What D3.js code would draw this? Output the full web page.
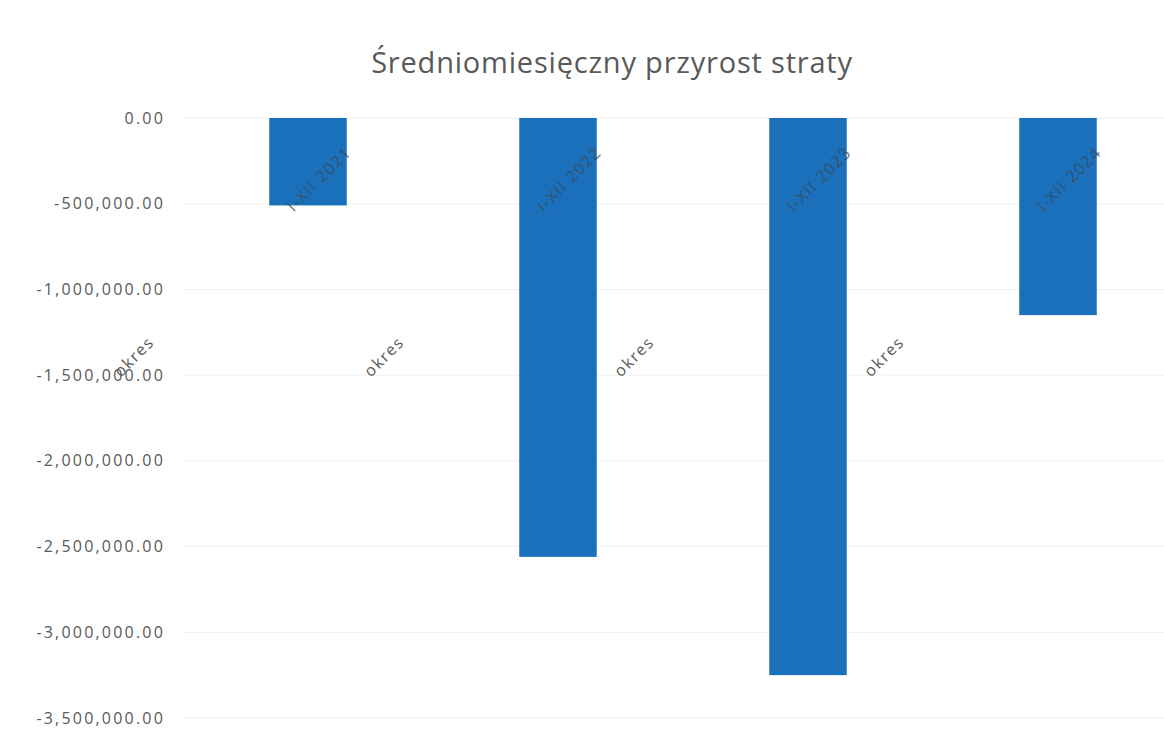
<!DOCTYPE html>
<html>
<head>
<meta charset="utf-8">
<script src="https://cdn.jsdelivr.net/npm/d3@7"></script>
<style>
  html, body { margin: 0; padding: 0; background: #ffffff; }
  svg { display: block; }
</style>
</head>
<body>
<svg id="chart" width="1164" height="736"></svg>
<script>
// Average monthly loss increase per period
const categories = ["I-XII 2021", "I-XII 2022", "I-XII 2023", "I-XII 2024"];
const groupLabels = ["okres", "okres", "okres", "okres"];
const values = [-510000, -2560000, -3250000, -1150000];
const yTicks = [0, -500000, -1000000, -1500000, -2000000, -2500000, -3000000, -3500000];
const title = "Średniomiesięczny przyrost straty";

const W = 1164, H = 736;
const plot = { left: 183, right: 1183, top: 118, bottom: 718 };

const svg = d3.select("#chart");

const x = d3.scaleBand()
  .domain(categories)
  .range([plot.left, plot.right])
  .paddingInner(0.69)
  .paddingOuter(0.345);

const y = d3.scaleLinear()
  .domain([-3500000, 0])
  .range([plot.bottom, plot.top]);

// Plain hyphen for negatives, as in the spreadsheet number format
const base = d3.format(",.2f");
const fmt = v => base(v).replace("\u2212", "-");

// Title
svg.append("text")
  .attr("x", 612)
  .attr("y", 73)
  .attr("text-anchor", "middle")
  .attr("font-family", "'Open Sans', sans-serif")
  .attr("font-size", 29)
  .attr("letter-spacing", 0.8)
  .attr("fill", "#595959")
  .text(title);

// Horizontal gridlines
svg.append("g")
  .selectAll("line")
  .data(yTicks)
  .join("line")
  .attr("x1", plot.left)
  .attr("x2", W)
  .attr("y1", d => y(d))
  .attr("y2", d => y(d))
  .attr("stroke", "#f0f0f0")
  .attr("stroke-width", 1);

// Y axis labels
const yAxis = d3.axisLeft(y)
  .tickValues(yTicks)
  .tickFormat(fmt)
  .tickSize(0)
  .tickPadding(18);

const yG = svg.append("g")
  .attr("transform", `translate(${plot.left},0)`)
  .call(yAxis);
yG.select(".domain").remove();
yG.selectAll("text")
  .attr("font-family", "'Open Sans', sans-serif")
  .attr("font-size", 16)
  .attr("letter-spacing", 2.2)
  .attr("fill", "#595959");

// Bars
svg.append("g")
  .selectAll("rect")
  .data(values)
  .join("rect")
  .attr("x", (d, i) => x(categories[i]))
  .attr("width", x.bandwidth())
  .attr("y", d => y(Math.max(0, d)))
  .attr("height", d => Math.abs(y(d) - y(0)))
  .attr("fill", "#1b70bb");

// Category labels, rotated, near the zero line
svg.append("g")
  .selectAll("text")
  .data(categories)
  .join("text")
  .attr("transform", d => `translate(${x(d) + x.bandwidth() / 2 + 12},${y(0) + 62}) rotate(-45)`)
  .attr("text-anchor", "middle")
  .attr("dominant-baseline", "middle")
  .attr("font-family", "'Open Sans', sans-serif")
  .attr("font-size", 16)
  .attr("letter-spacing", 1.5)
  .attr("fill", "#3a4a5a")
  .attr("fill-opacity", 0.8)
  .text(d => d);

// Group labels between the bars
const step = x.step();
svg.append("g")
  .selectAll("text")
  .data(groupLabels)
  .join("text")
  .attr("transform", (d, i) => `translate(${plot.left + i * step - 48},${y(-1350000) + 8}) rotate(-45)`)
  .attr("text-anchor", "middle")
  .attr("dominant-baseline", "middle")
  .attr("font-family", "'Open Sans', sans-serif")
  .attr("font-size", 16)
  .attr("letter-spacing", 1.5)
  .attr("fill", "#595959")
  .text(d => d);
</script>
</body>
</html>
